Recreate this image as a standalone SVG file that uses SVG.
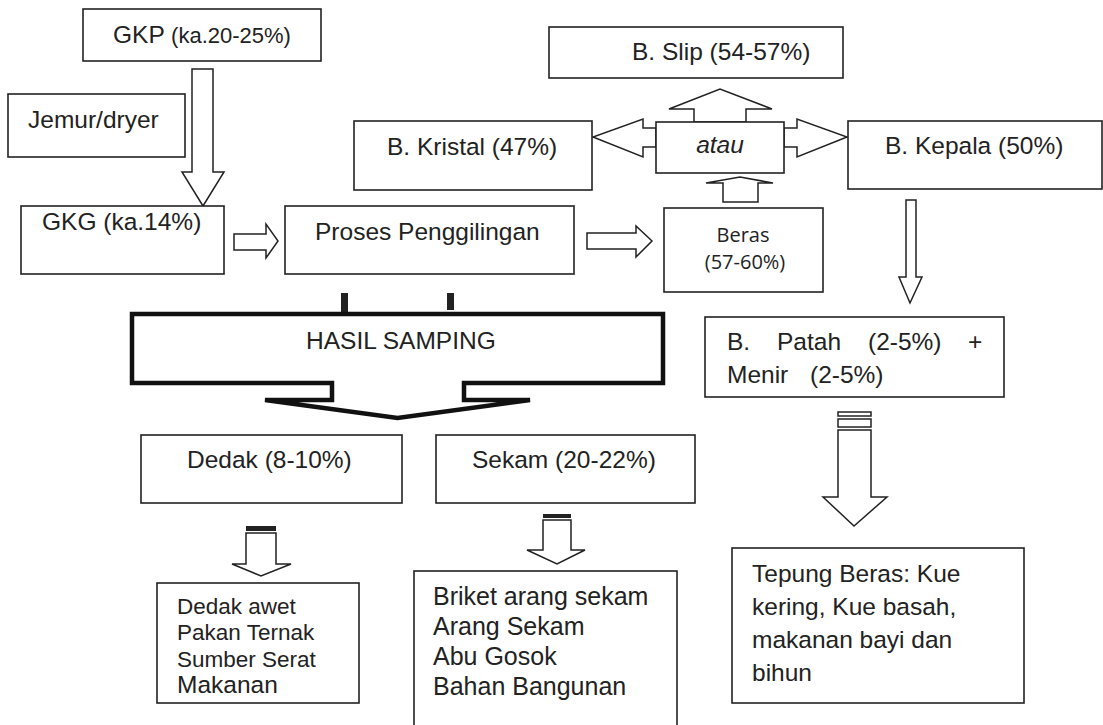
<svg xmlns="http://www.w3.org/2000/svg" width="1103" height="725" viewBox="0 0 1103 725">
<style>
.box{fill:#fff;stroke:#222;stroke-width:1.6}
.arr{fill:#fff;stroke:#222;stroke-width:1.5;stroke-linejoin:miter}
.t{font-family:"Liberation Sans",Arial,sans-serif;font-size:24.5px;fill:#222}
.s{font-size:22.5px}
.l{font-size:25px}
.c{font-family:"Open Sans","Noto Sans",sans-serif;font-size:20px;fill:#222;text-anchor:middle}
.bar{fill:#222}
</style>
<rect width="1103" height="725" fill="#fff"/>

<g id="connectors">
  <polygon class="arr" points="192,69 213,69 213,172 224,172 203,206 182,172 192,172"/>
  <polygon class="arr" points="234,234 266,234 266,224 278,241 266,258 266,250 234,250"/>
  <polygon class="arr" points="587,233 636,233 636,226 652,241 636,257 636,249 587,249"/>
  <polygon class="arr" points="723,202 723,183 706,183 740,177 773,183 758,183 758,202"/>
  <polygon class="arr" points="694,122 694,109 669,109 720,89 772,109 746,109 746,122"/>
  <polygon class="arr" points="656,128 643,128 643,119 593,137 643,157 643,147 656,147"/>
  <polygon class="arr" points="784,128 797,128 797,119 847,137 797,157 797,147 784,147"/>
  <polygon class="arr" points="906,200 916,200 916,277 922,277 910,303 899,277 906,277"/>
  <rect class="arr" x="838" y="412" width="33" height="4"/>
  <rect class="arr" x="838" y="419" width="33" height="8"/>
  <polygon class="arr" points="838,430 871,430 871,497 887,497 854,526 823,497 838,497"/>
  <rect class="bar" x="341" y="293" width="7" height="21"/>
  <rect class="bar" x="447" y="293" width="7" height="17"/>
  <rect class="bar" x="246" y="526" width="30" height="5"/>
  <polygon class="arr" points="246,533 276,533 276,564 291,564 261,576 232,564 246,564"/>
  <rect class="bar" x="543" y="514" width="28" height="4"/>
  <polygon class="arr" points="543,520 571,520 571,550 585,550 557,564 527,550 543,550"/>
</g>

<g id="gkp">
  <rect class="box" x="83" y="9" width="238" height="52"/>
  <text class="t" x="113" y="43">GKP <tspan style="font-size:22px">(ka.20-25%)</tspan></text>
</g>
<g id="jemur">
  <rect class="box" x="8" y="94" width="177" height="63"/>
  <text class="t" x="28" y="128">Jemur/dryer</text>
</g>
<g id="gkg">
  <rect class="box" x="21" y="206" width="203" height="68"/>
  <text class="t" x="42" y="230">GKG (ka.14%)</text>
</g>
<g id="proses">
  <rect class="box" x="285" y="206" width="289" height="68"/>
  <text class="t" x="315" y="240">Proses Penggilingan</text>
</g>
<g id="beras">
  <rect class="box" x="664" y="208" width="159" height="84"/>
  <text class="c" x="743" y="242">Beras</text>
  <text class="c" x="745" y="269">(57-60%)</text>
</g>
<g id="slip">
  <rect class="box" x="549" y="27" width="294" height="51"/>
  <text class="t" x="632" y="60">B. Slip (54-57%)</text>
</g>
<g id="kristal">
  <rect class="box" x="354" y="121" width="238" height="69"/>
  <text class="t" x="387" y="155">B. Kristal (47%)</text>
</g>
<g id="atau">
  <rect class="box" x="656" y="122" width="128" height="51"/>
  <text class="t" x="720" y="153" text-anchor="middle" font-style="italic">atau</text>
</g>
<g id="kepala">
  <rect class="box" x="848" y="121" width="254" height="68"/>
  <text class="t" x="885" y="154">B. Kepala (50%)</text>
</g>
<g id="hasil-samping">
  <polygon fill="#fff" stroke="#111" stroke-width="4.5" stroke-linejoin="miter" points="132,314 663,314 663,383 464,383 464,400 530,400 397.5,418 265,400 332,400 332,383 132,383"/>
  <text class="t" x="306" y="349">HASIL SAMPING</text>
</g>
<g id="patah">
  <rect class="box" x="705" y="317" width="299" height="80"/>
  <text class="t" y="350"><tspan x="727">B.</tspan><tspan x="777">Patah</tspan><tspan x="868">(2-5%)</tspan><tspan x="968">+</tspan></text>
  <text class="t" y="383"><tspan x="727">Menir</tspan><tspan x="810">(2-5%)</tspan></text>
</g>
<g id="dedak">
  <rect class="box" x="141" y="435" width="261" height="68"/>
  <text class="t" x="187" y="468">Dedak (8-10%)</text>
</g>
<g id="sekam">
  <rect class="box" x="436" y="435" width="259" height="68"/>
  <text class="t" x="472" y="468">Sekam (20-22%)</text>
</g>
<g id="dedak-uses">
  <rect class="box" x="157" y="583" width="202" height="120"/>
  <text class="t s" x="177" y="614">Dedak awet</text>
  <text class="t s" x="177" y="640">Pakan Ternak</text>
  <text class="t s" x="177" y="667">Sumber Serat</text>
  <text class="t" x="177" y="693">Makanan</text>
</g>
<g id="sekam-uses">
  <rect class="box" x="414" y="571" width="263" height="160"/>
  <text class="t l" x="433" y="605">Briket arang sekam</text>
  <text class="t l" x="433" y="635">Arang Sekam</text>
  <text class="t l" x="433" y="665">Abu Gosok</text>
  <text class="t l" x="433" y="695">Bahan Bangunan</text>
</g>
<g id="tepung">
  <rect class="box" x="732" y="548" width="292" height="155"/>
  <text class="t" x="752" y="582">Tepung Beras: Kue</text>
  <text class="t" x="752" y="615">kering, Kue basah,</text>
  <text class="t" x="752" y="648">makanan bayi dan</text>
  <text class="t" x="752" y="681">bihun</text>
</g>
</svg>
